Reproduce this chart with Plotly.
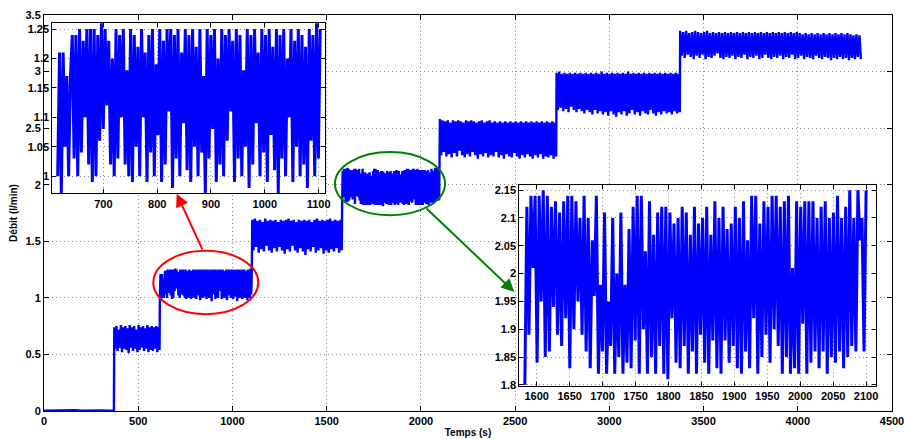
import numpy as np
import plotly.graph_objects as go

# ---------------- data ----------------
# start / end time (s) of each flow step
seg_start = [0, 373, 615, 1105, 1582, 2101, 2720, 3376]
seg_end = [371, 613, 1103, 1580, 2100, 2718, 3374, 4335]

step0 = [0.003, 0.004, 0.002, 0.005, 0.003, 0.006, 0.002, 0.004, 0.003, 0.005, 0.002, 0.004]

step1 = [0.74, 0.55, 0.75, 0.53, 0.72, 0.56, 0.76, 0.52, 0.74, 0.55, 0.75, 0.54, 0.73, 0.51,
         0.76, 0.56, 0.74, 0.53, 0.75, 0.55, 0.72, 0.52, 0.76, 0.54, 0.74, 0.56, 0.75, 0.53,
         0.73, 0.55, 0.76, 0.52, 0.74, 0.54, 0.75, 0.53, 0.74, 0.55, 0.75, 0.52, 0.74, 0.54]

# zoomed in the first inset (615 s - 1105 s)
step2 = [1.00, 1.21, 0.97, 1.21, 1.05, 1.17, 1.00, 1.17, 1.24, 1.03, 1.24, 1.00, 1.25, 1.04,
         1.23, 1.10, 1.25, 1.02, 1.25, 0.99, 1.25, 1.00, 1.24, 1.06, 1.26, 1.08, 1.25, 1.12,
         1.23, 1.02, 1.20, 1.00, 1.25, 1.03, 1.24, 1.10, 1.25, 1.02, 1.18, 1.00, 1.25, 0.99,
         1.24, 1.05, 1.22, 1.00, 1.25, 1.10, 1.21, 0.99, 1.24, 1.04, 1.25, 1.00, 1.19, 1.07,
         1.25, 0.99, 1.23, 1.02, 1.25, 1.11, 1.25, 0.98, 1.24, 1.03, 1.25, 1.00, 1.21, 1.09,
         1.25, 1.01, 1.24, 0.99, 1.25, 1.05, 1.22, 1.00, 1.25, 1.04, 1.17, 0.97, 1.25, 1.03,
         1.24, 1.08, 1.25, 0.99, 1.20, 1.02, 1.25, 1.00, 1.24, 1.06, 1.25, 1.11, 1.23, 0.99,
         1.25, 1.03, 1.24, 1.00, 1.18, 1.05, 1.25, 0.98, 1.24, 1.02, 1.25, 1.09, 1.21, 1.00,
         1.25, 1.04, 1.24, 0.99, 1.25, 1.07, 1.22, 1.01, 1.25, 0.97, 1.24, 1.03, 1.25, 1.00,
         1.20, 1.10, 1.25, 0.99, 1.23, 1.05, 1.25, 1.00, 1.24, 1.02, 1.22, 0.98, 1.25, 1.06,
         1.24, 1.00, 1.26, 1.03, 1.25]

step3 = [1.69, 1.42, 1.70, 1.45, 1.68, 1.40, 1.69, 1.43, 1.67, 1.41, 1.70, 1.46, 1.68, 1.42,
         1.69, 1.40, 1.68, 1.44, 1.69, 1.41, 1.67, 1.45, 1.69, 1.42, 1.68, 1.39, 1.69, 1.43,
         1.70, 1.41, 1.68, 1.46, 1.69, 1.42, 1.67, 1.40, 1.69, 1.44, 1.68, 1.41, 1.69, 1.38,
         1.68, 1.43, 1.69, 1.41, 1.67, 1.45, 1.69, 1.40, 1.70, 1.42, 1.68, 1.44, 1.69, 1.39,
         1.68, 1.42, 1.69, 1.40, 1.70, 1.43, 1.68, 1.41, 1.69, 1.44, 1.68, 1.40, 1.69, 1.42]

# zoomed in the second inset (1580 s - 2100 s)
step4 = [1.80, 2.12, 1.89, 2.14, 2.01, 2.14, 1.84, 2.14, 1.95, 2.15, 1.85, 2.14, 1.86, 2.12,
         1.94, 2.13, 1.89, 2.11, 1.87, 2.13, 1.92, 2.14, 1.83, 2.14, 1.90, 2.13, 1.95, 2.10,
         1.89, 2.14, 1.86, 2.10, 1.83, 2.06, 1.96, 2.14, 1.82, 1.98, 1.86, 2.11, 1.82, 1.95,
         1.87, 2.10, 1.82, 2.00, 1.85, 2.11, 1.82, 1.98, 1.84, 2.08, 1.83, 2.12, 1.88, 2.14,
         1.82, 2.14, 1.90, 2.04, 1.82, 2.13, 1.85, 2.07, 1.82, 2.11, 1.87, 2.12, 1.82, 2.12,
         1.81, 2.11, 1.92, 2.09, 1.84, 2.10, 1.83, 2.12, 1.87, 2.11, 1.82, 2.07, 1.86, 2.12,
         1.82, 2.09, 1.89, 2.10, 1.84, 2.12, 1.82, 2.07, 1.88, 2.13, 1.83, 2.10, 1.82, 2.12,
         1.88, 2.08, 1.84, 2.09, 1.87, 2.12, 1.83, 2.10, 1.82, 2.13, 1.86, 2.06, 1.83, 2.14,
         1.92, 2.14, 1.82, 2.09, 1.85, 2.13, 1.89, 2.12, 1.84, 2.14, 1.90, 2.14, 1.87, 2.12,
         1.82, 2.13, 1.85, 2.14, 1.82, 2.01, 1.83, 2.13, 1.82, 2.12, 1.91, 2.13, 1.82, 2.13,
         1.84, 2.13, 1.86, 2.10, 1.83, 2.12, 1.86, 2.13, 1.82, 2.10, 1.85, 2.11, 1.84, 2.14,
         1.86, 2.10, 1.83, 2.12, 1.85, 2.15, 1.87, 2.10, 1.86, 2.15, 2.06, 2.10, 1.86, 2.15]

step5 = [2.58, 2.26, 2.57, 2.29, 2.56, 2.25, 2.57, 2.27, 2.55, 2.24, 2.57, 2.28, 2.56, 2.25,
         2.57, 2.30, 2.56, 2.26, 2.55, 2.24, 2.57, 2.27, 2.56, 2.25, 2.57, 2.29, 2.56, 2.26,
         2.55, 2.23, 2.56, 2.27, 2.57, 2.25, 2.55, 2.28, 2.56, 2.24, 2.57, 2.26, 2.55, 2.25,
         2.56, 2.29, 2.55, 2.24, 2.56, 2.26, 2.55, 2.23, 2.56, 2.27, 2.55, 2.25, 2.56, 2.24,
         2.55, 2.28, 2.56, 2.25, 2.55, 2.23, 2.56, 2.26, 2.55, 2.24, 2.56, 2.27, 2.55, 2.25,
         2.56, 2.23, 2.55, 2.26, 2.56, 2.24, 2.55, 2.27, 2.56, 2.23, 2.55, 2.25, 2.56, 2.24,
         2.55, 2.26, 2.56, 2.23, 2.55, 2.25]

step6 = [2.99, 2.66, 3.00, 2.68, 2.98, 2.65, 2.99, 2.67, 2.98, 2.64, 2.99, 2.69, 2.98, 2.66,
         2.99, 2.64, 2.98, 2.67, 2.99, 2.65, 2.98, 2.63, 2.99, 2.66, 2.98, 2.64, 2.99, 2.62,
         2.98, 2.66, 2.99, 2.63, 2.98, 2.65, 3.00, 2.62, 2.98, 2.64, 2.99, 2.61, 2.98, 2.65,
         2.99, 2.62, 2.98, 2.60, 2.99, 2.64, 2.98, 2.62, 2.99, 2.65, 2.98, 2.61, 3.00, 2.63,
         2.98, 2.66, 2.99, 2.62, 2.98, 2.64, 2.99, 2.61, 2.98, 2.65, 2.99, 2.63, 2.98, 2.62,
         2.99, 2.66, 2.98, 2.63, 2.99, 2.61, 2.98, 2.64, 2.99, 2.62, 2.98, 2.65, 2.99, 2.63,
         2.98, 2.64, 2.99, 2.62, 2.98, 2.65, 2.99, 2.63, 2.98, 2.64]

step7 = [3.36, 3.14, 3.35, 3.12, 3.36, 3.15, 3.34, 3.13, 3.35, 3.11, 3.36, 3.14, 3.35, 3.12,
         3.34, 3.15, 3.35, 3.11, 3.36, 3.13, 3.34, 3.12, 3.35, 3.14, 3.34, 3.16, 3.35, 3.12,
         3.34, 3.11, 3.35, 3.13, 3.34, 3.12, 3.35, 3.14, 3.34, 3.11, 3.35, 3.13, 3.34, 3.12,
         3.35, 3.15, 3.34, 3.11, 3.35, 3.13, 3.34, 3.12, 3.35, 3.14, 3.34, 3.11, 3.35, 3.12,
         3.34, 3.15, 3.35, 3.12, 3.34, 3.11, 3.35, 3.13, 3.34, 3.12, 3.35, 3.14, 3.34, 3.11,
         3.35, 3.13, 3.34, 3.12, 3.35, 3.15, 3.34, 3.11, 3.35, 3.12, 3.34, 3.14, 3.33, 3.11,
         3.34, 3.13, 3.33, 3.12, 3.34, 3.11, 3.33, 3.14, 3.34, 3.12, 3.33, 3.11, 3.34, 3.13,
         3.33, 3.12, 3.34, 3.10, 3.33, 3.12, 3.34, 3.11, 3.33, 3.13, 3.34, 3.11, 3.33, 3.12,
         3.34, 3.10, 3.33, 3.12, 3.32, 3.11, 3.33, 3.13, 3.32, 3.11]

steps = [step0, step1, step2, step3, step4, step5, step6, step7]

main_xticks = [0, 500, 1000, 1500, 2000, 2500, 3000, 3500, 4000, 4500]
main_yticks = [0, 0.5, 1, 1.5, 2, 2.5, 3, 3.5]
inset1_xticks = [700, 800, 900, 1000, 1100]
inset1_yticks = [1, 1.05, 1.1, 1.15, 1.2, 1.25]
inset2_xticks = [1600, 1650, 1700, 1750, 1800, 1850, 1900, 1950, 2000, 2050, 2100]
inset2_yticks = [1.8, 1.85, 1.9, 1.95, 2, 2.05, 2.1, 2.15]

# ---------------- build the time series ----------------
seg_t = [np.linspace(s, e, len(v)) for s, e, v in zip(seg_start, seg_end, steps)]
t_all = np.concatenate(seg_t)
q_all = np.concatenate([np.array(v) for v in steps])

BLUE = "#0000ff"
FONT = "Liberation Sans"
tickfont = dict(family=FONT, size=11, color="black", weight="bold")
titlefont = dict(family=FONT, size=10, color="black", weight="bold")

fig = go.Figure()
fig.add_trace(go.Scatter(x=t_all, y=q_all, mode="lines",
                         line=dict(color=BLUE, width=2.4), xaxis="x", yaxis="y",
                         showlegend=False, hoverinfo="skip"))
fig.add_trace(go.Scatter(x=seg_t[2], y=step2, mode="lines",
                         line=dict(color=BLUE, width=3), xaxis="x2", yaxis="y2",
                         showlegend=False, hoverinfo="skip"))
fig.add_trace(go.Scatter(x=seg_t[4], y=step4, mode="lines",
                         line=dict(color=BLUE, width=3), xaxis="x3", yaxis="y3",
                         showlegend=False, hoverinfo="skip"))

grid = dict(showgrid=True, gridcolor="#8a8a8a", griddash="1px,3px", gridwidth=1,
            zeroline=False, showline=True, linecolor="black", linewidth=1,
            mirror="ticks", ticks="inside", tickcolor="black", tickfont=tickfont,
            automargin=False, ticklabeloverflow="allow")

fig.update_layout(
    width=904, height=439,
    margin=dict(l=44, r=12, t=15, b=28),
    paper_bgcolor="white", plot_bgcolor="white",
    xaxis=dict(range=[0, 4500], tickvals=main_xticks, ticklen=5, domain=[0, 1],
               title=dict(text="Temps (s)", font=titlefont, standoff=2), **grid),
    yaxis=dict(range=[0, 3.5], tickvals=main_yticks, ticklen=5, domain=[0, 1],
               title=dict(text="Débit (l/min)", font=titlefont, standoff=6), **grid),
    xaxis2=dict(range=[605, 1112], tickvals=inset1_xticks, ticklen=4, anchor="y2",
                domain=[0.0098, 0.3314], **grid),
    yaxis2=dict(range=[0.9705, 1.261], tickvals=inset1_yticks, ticklen=4, anchor="x2",
                domain=[0.5493, 0.9808], **grid),
    xaxis3=dict(range=[1573.6, 2115], tickvals=inset2_xticks, ticklen=4, anchor="y3",
                domain=[0.5605, 0.9811], **grid),
    yaxis3=dict(range=[1.798, 2.159], tickvals=inset2_yticks, ticklen=4, anchor="x3",
                domain=[0.0631, 0.5703], **grid),
)

# ellipses
fig.add_shape(type="circle", xref="x", yref="y", x0=580, x1=1137, y0=0.856, y1=1.416,
              line=dict(color="#ff0000", width=2), layer="above")
fig.add_shape(type="circle", xref="x", yref="y", x0=1544, x1=2128, y0=1.73, y1=2.289,
              line=dict(color="#008000", width=2), layer="above")

# arrows
fig.add_annotation(x=704, y=1.921, ax=844, ay=1.415, xref="x", yref="y", axref="x", ayref="y",
                   text="", showarrow=True, arrowhead=2, arrowsize=1.3, arrowwidth=2,
                   arrowcolor="#ff0000", standoff=0, startstandoff=0)
fig.add_annotation(x=2495.6, y=1.053, ax=2021.8, ay=1.803, xref="x", yref="y", axref="x", ayref="y",
                   text="", showarrow=True, arrowhead=2, arrowsize=1.3, arrowwidth=2,
                   arrowcolor="#008000", standoff=0, startstandoff=0)

fig.write_html("out.html", config={"displayModeBar": False},
               post_script="document.body.style.margin='0';")
